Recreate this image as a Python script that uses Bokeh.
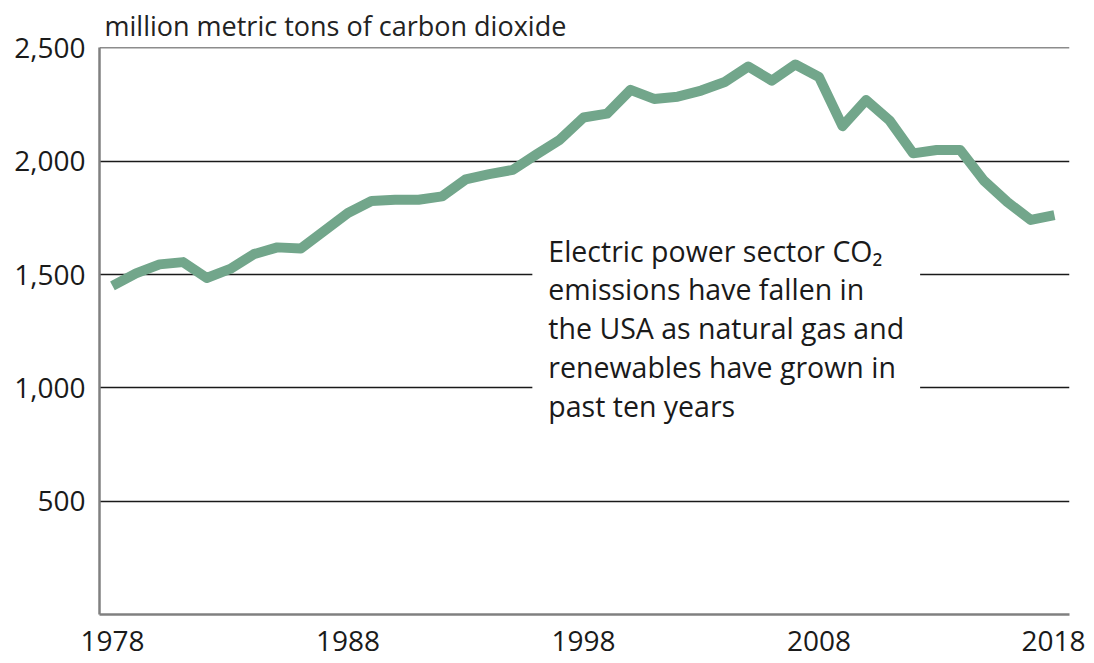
from bokeh.plotting import figure
from bokeh.models import Range1d, FixedTicker, NumeralTickFormatter, Label
from bokeh.embed import file_html
from bokeh.resources import INLINE

years = list(range(1978, 2019))
emissions = [1450, 1505, 1545, 1555, 1485, 1525, 1590, 1620, 1615, 1693, 1772,
             1825, 1830, 1830, 1845, 1920, 1943, 1962, 2030, 2095, 2193,
             2210, 2315, 2275, 2285, 2312, 2350, 2418, 2356, 2427, 2372,
             2155, 2270, 2180, 2035, 2050, 2050, 1915, 1820, 1741, 1762]
x_ticks = [1978, 1988, 1998, 2008, 2018]
y_ticks = [500, 1000, 1500, 2000, 2500]
title_text = "million metric tons of carbon dioxide"
note_text = ("Electric power sector CO\u2082\nemissions have fallen in\n"
             "the USA as natural gas and\nrenewables have grown in\npast ten years")

FONT = "Open Sans"

p = figure(width=1085, height=658, output_backend="svg", toolbar_location=None,
           x_range=Range1d(1977.45, 2018.64), y_range=Range1d(0, 2502),
           min_border_left=99, min_border_right=16, min_border_top=47,
           min_border_bottom=44)
p.outline_line_color = None
p.background_fill_color = "white"
p.border_fill_color = "white"

p.title.text = title_text
p.title.text_font = FONT
p.title.text_font_size = "27px"
p.title.text_font_style = "normal"
p.title.text_color = "#222222"
p.title.align = "left"
p.title.offset = 5
p.title.standoff = 8

p.xgrid.grid_line_color = None
p.ygrid.ticker = FixedTicker(ticks=y_ticks)
p.ygrid.grid_line_color = "#1a1a1a"
p.ygrid.grid_line_width = 1.5

for ax in (p.xaxis[0], p.yaxis[0]):
    ax.axis_line_color = "#808080"
    ax.axis_line_width = 2.5
    ax.major_tick_line_color = None
    ax.minor_tick_line_color = None
    ax.major_label_text_font = FONT
    ax.major_label_text_font_size = "28px"
    ax.major_label_text_color = "#1a1a1a"

p.yaxis.ticker = FixedTicker(ticks=y_ticks)
p.yaxis.formatter = NumeralTickFormatter(format="0,0")
p.yaxis.major_label_standoff = 8
p.xaxis.ticker = FixedTicker(ticks=x_ticks)
p.xaxis.major_label_standoff = 10

p.line(years, emissions, line_color="#72a68b", line_width=10, line_join="round")

note = Label(x=1995.83, y=1760, text=note_text, text_font=FONT, text_font_size="28.5px",
             text_color="#1a1a1a", text_baseline="top", text_align="left",
             text_line_height=1.02, background_fill_color="white", padding=16)
p.add_layout(note)

open("out.html", "w").write(file_html(p, INLINE))
